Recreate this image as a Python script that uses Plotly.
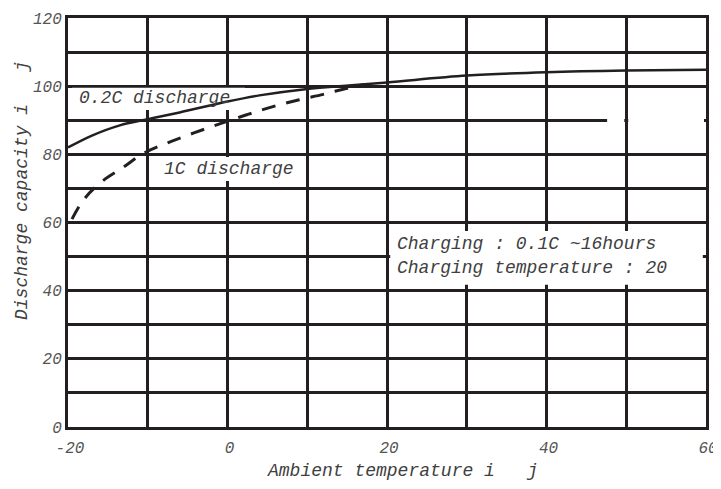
import plotly.graph_objects as go

# ambient temperature (deg C) vs discharge capacity (%)
temp_02c = [-20, -17, -13.5, -10, -6, 0, 4, 10, 14, 20, 30, 40, 50, 60]
cap_02c = [82, 85.5, 88.5, 90.3, 92.3, 95.5, 97.3, 99.2, 100, 101.1, 103.1, 104.1, 104.6, 104.8]

temp_1c = [-19.5, -18, -15.6, -13.2, -10.6, -7.6, -4.3, -0.9, 2.4, 5.7, 9, 12, 15, 17]
cap_1c = [61, 66.8, 72.3, 76, 80.2, 83.3, 86.2, 89, 91.6, 94, 96, 97.6, 99.4, 100.4]

x_ticks = [-20, 0, 20, 40, 60]
y_ticks = [0, 20, 40, 60, 80, 100, 120]

INK = "#231f20"
TXT = "#404040"
FONT = "Liberation Mono"

fig = go.Figure()

fig.add_trace(go.Scatter(
    x=temp_02c, y=cap_02c, mode="lines", line_shape="spline",
    line=dict(color=INK, width=2.5), showlegend=False, hoverinfo="skip",
))
fig.add_trace(go.Scatter(
    x=temp_1c, y=cap_1c, mode="lines", line_shape="spline",
    line=dict(color=INK, width=3, dash="14px,11px"), showlegend=False, hoverinfo="skip",
))

# white patches sit between the grid and the curves: label backgrounds and
# the missing stretch of the 90% grid line on the right
for x0, x1, y0, y1 in [(-19.5, 2.2, 93.0, 99.5), (-9.1, 9.7, 72.2, 79.2),
                       (20.4, 59.6, 41.7, 57.5),
                       (47.6, 49.75, 89.4, 90.6), (50.25, 59.75, 89.4, 90.6)]:
    fig.add_shape(type="rect", x0=x0, x1=x1, y0=y0, y1=y1, layer="between",
                  fillcolor="white", line_width=0)

lab_font = dict(family=FONT, size=18, color=TXT, style="italic")
for txt, x, y in [("0.2C discharge", -18.9, 96.5),
                  ("1C discharge", -8.2, 75.7),
                  ("Charging : 0.1C ~16hours", 21.0, 53.7),
                  ("Charging temperature : 20", 21.0, 46.7)]:
    fig.add_annotation(x=x, y=y, text=txt, showarrow=False, xanchor="left",
                       yanchor="middle", font=lab_font)

title_font = dict(family=FONT, size=18, color=TXT, style="italic")
fig.add_annotation(x=(402 - 68) / 638, y=-44 / 409, xref="paper", yref="paper",
                   text="Ambient temperature i   j", showarrow=False,
                   xanchor="center", yanchor="middle", font=title_font)
fig.add_annotation(x=-46 / 638, y=(427 - 191) / 409, xref="paper", yref="paper",
                   text="Discharge capacity i   j", showarrow=False, textangle=-90,
                   xanchor="center", yanchor="middle", font=title_font)

tick_font = dict(family=FONT, size=16, color="#555555")
grid = dict(showgrid=True, gridcolor=INK, gridwidth=3, zeroline=False,
            showline=True, linecolor=INK, linewidth=3, mirror=True, ticks="",
            tickfont=tick_font, automargin=False)

fig.update_xaxes(range=[-20, 60], tickvals=x_ticks,
                 ticktext=[f"<i>{v}</i>" for v in x_ticks],
                 ticklabelstandoff=4, ticklabelshift=2,
                 minor=dict(dtick=10, showgrid=True, gridcolor=INK, gridwidth=3), **grid)
fig.update_yaxes(range=[0, 120], tickvals=y_ticks,
                 ticktext=[f"<i>{v}</i>" for v in y_ticks],
                 ticklabelstandoff=0,
                 minor=dict(dtick=10, showgrid=True, gridcolor=INK, gridwidth=3), **grid)

# page body adds an 8px offset, so the figure is sized to sit inside the window
fig.update_layout(
    width=713, height=481,
    margin=dict(l=60, r=15, t=10, b=62),
    plot_bgcolor="white", paper_bgcolor="white",
)

fig.write_html("out.html")
